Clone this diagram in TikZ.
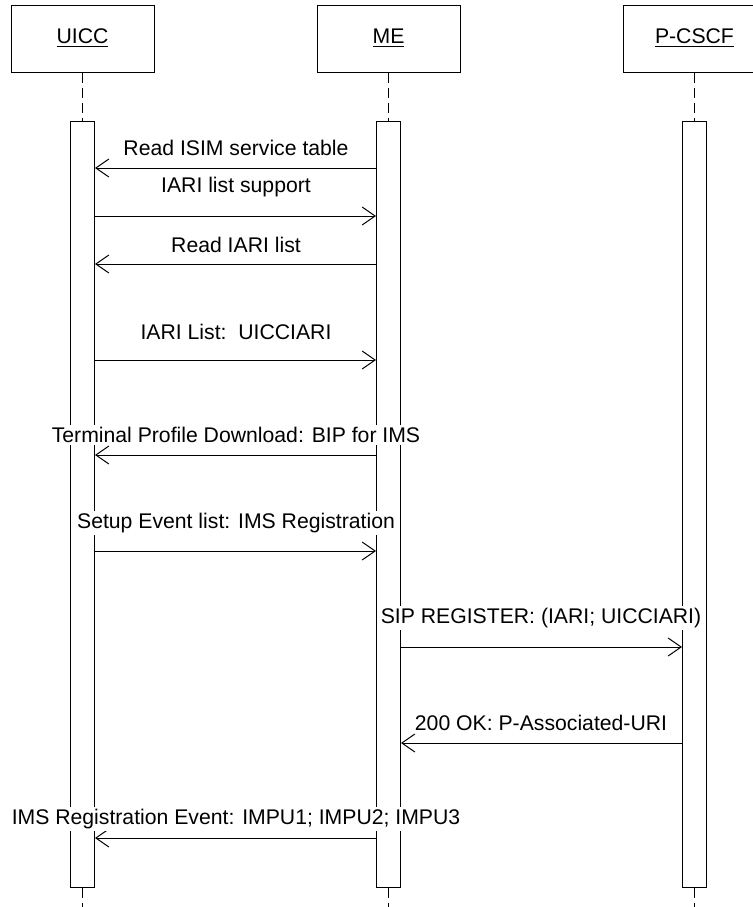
\documentclass[tikz,border=0pt]{standalone}
\usepackage{fontspec}
\setmainfont{Liberation Sans}
\usepackage{tikz}
\usetikzlibrary{arrows.meta,positioning}
\definecolor{ink}{HTML}{000000}
\newcommand{\msgfont}{\fontsize{10.6pt}{12pt}\selectfont}
\tikzset{
  headbox/.style={draw=ink,line width=.5pt,minimum width=71.5pt,minimum height=33.5pt,inner sep=0pt,font=\msgfont},
  lifeline/.style={draw=ink,line width=.5pt,dash pattern=on 5pt off 2.5pt},
  actbar/.style={draw=ink,fill=white,line width=.5pt,minimum width=12pt,minimum height=383pt,inner sep=0pt},
  msgarr/.style={-{Straight Barb[length=6.5pt,width=9pt]},line width=.5pt,draw=ink},
  msglabel/.style={fill=white,inner sep=1pt,font=\msgfont,text=ink}
}
\begin{document}
\begin{tikzpicture}[x=.5pt,y=-.5pt]
\useasboundingbox (0,0) rectangle (753,907);
\clip (0,0) rectangle (753,907);
% heads
\node[headbox] (uicc) at (82.5,38.5) {\underline{UICC}};
\node[headbox,right=81pt of uicc] (me) {\underline{ME}};
\node[headbox,right=81pt of me] (pcscf) {\underline{P-CSCF}};
% activation bars
\node[actbar,below=24pt of uicc] (uiccbar) {};
\node[actbar,below=24pt of me] (mebar) {};
\node[actbar,below=24pt of pcscf] (pcscfbar) {};
\coordinate[below=12pt of uiccbar.south] (uiccend);
\coordinate[below=12pt of mebar.south] (meend);
\coordinate[below=12pt of pcscfbar.south] (pcscfend);
\draw[lifeline] (uicc) -- (uiccbar); \draw[lifeline] (uiccbar) -- (uiccend);
\draw[lifeline] (me) -- (mebar); \draw[lifeline] (mebar) -- (meend);
\draw[lifeline] (pcscf) -- (pcscfbar); \draw[lifeline] (pcscfbar) -- (pcscfend);
% message rows
\coordinate (m1) at (0,168); \coordinate (m2) at (0,216);
\coordinate (m3) at (0,264); \coordinate (m4) at (0,360);
\coordinate (m5) at (0,455); \coordinate (m6) at (0,551);
\coordinate (m7) at (0,647); \coordinate (m8) at (0,743);
\coordinate (m9) at (0,838);
\draw[msgarr] (mebar.west |- m1) -- (uiccbar.east |- m1);
\draw[msgarr] (uiccbar.east |- m2) -- (mebar.west |- m2);
\draw[msgarr] (mebar.west |- m3) -- (uiccbar.east |- m3);
\draw[msgarr] (uiccbar.east |- m4) -- (mebar.west |- m4);
\draw[msgarr] (mebar.west |- m5) -- (uiccbar.east |- m5);
\draw[msgarr] (uiccbar.east |- m6) -- (mebar.west |- m6);
\draw[msgarr] (mebar.east |- m7) -- (pcscfbar.west |- m7);
\draw[msgarr] (pcscfbar.west |- m8) -- (mebar.east |- m8);
\draw[msgarr] (mebar.west |- m9) -- (uiccbar.east |- m9);
% labels
\node[msglabel] (t1) at (236,148) {Read ISIM service table};
\node[msglabel] (t2) at (236,187) {IARI list support};
\node[msglabel] (t3) at (236,245) {Read IARI list};
\node[msglabel] (t4) at (236,332) {IARI List:\ \ UICCIARI};
\node[msglabel] (t5) at (236,435) {Terminal Profile Download: BIP for IMS};
\node[msglabel] (t6) at (236,523) {Setup Event list: IMS Registration};
\node[msglabel] (t7) at (541,618) {SIP REGISTER: (IARI; UICCIARI)};
\node[msglabel] (t8) at (541,723) {200 OK: P-Associated-URI};
\node[msglabel] (t9) at (236,819) {IMS Registration Event: IMPU1; IMPU2; IMPU3};
\end{tikzpicture}
\end{document}
